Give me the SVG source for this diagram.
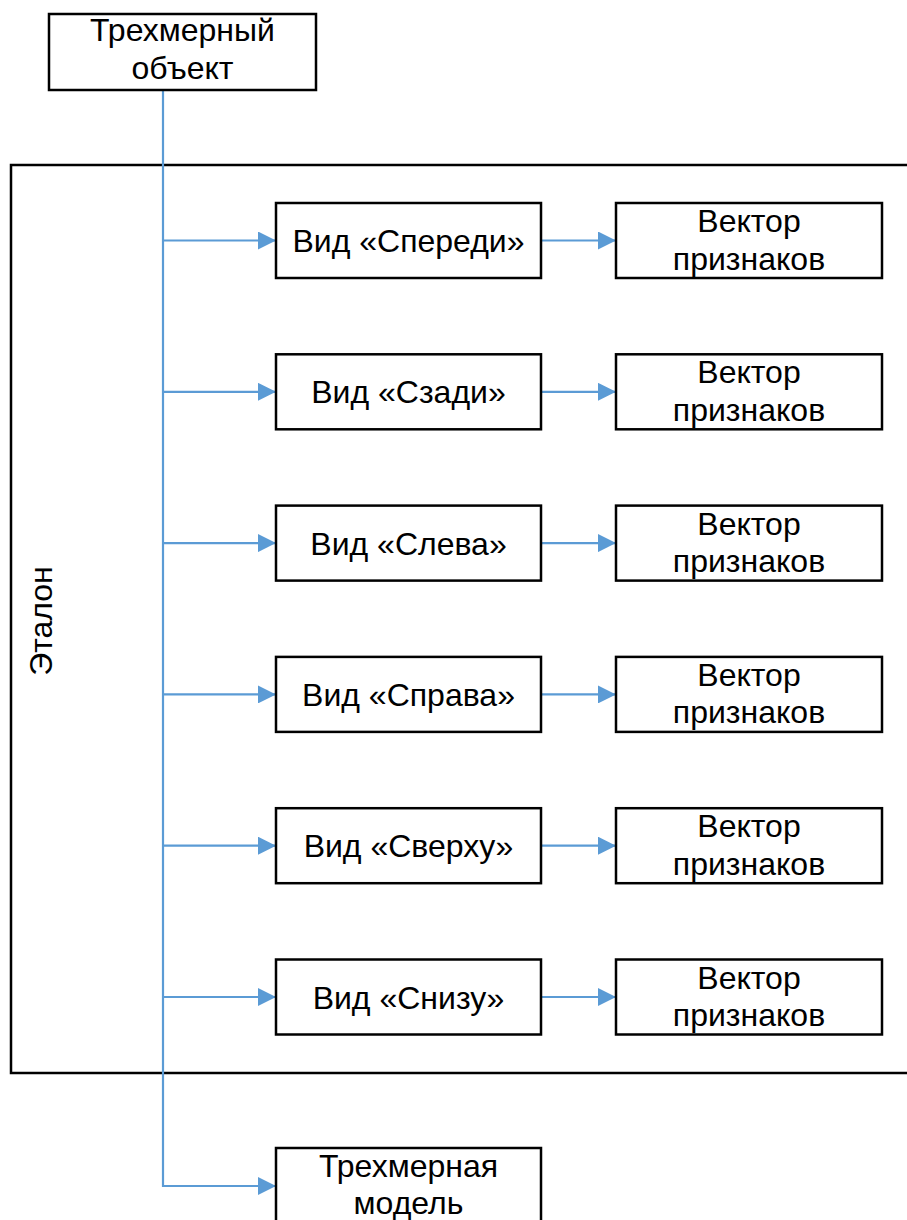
<svg xmlns="http://www.w3.org/2000/svg" width="907" height="1220" viewBox="0 0 907 1220">
  <style>
    .box { fill: #ffffff; stroke: #000000; stroke-width: 2.5; }
    .frame { fill: none; stroke: #000000; stroke-width: 2.5; }
    .lbl { font-family: "Liberation Sans", Arial, sans-serif; font-size: 32px; fill: #000000; text-anchor: middle; }
    .link { fill: none; stroke: #5B9BD5; stroke-width: 2.2; }
  </style>
  <defs>
    <marker id="arrow" markerUnits="userSpaceOnUse" markerWidth="18" markerHeight="18" refX="18" refY="9" orient="auto">
      <path d="M0,0 L18,9 L0,18 Z" fill="#5B9BD5"/>
    </marker>
  </defs>
  <rect width="907" height="1220" fill="#ffffff"/>

  <!-- Container frame "Эталон" -->
  <g id="etalon">
    <rect class="frame" x="11" y="165" width="920" height="908"/>
    <text class="lbl" transform="translate(52,621) rotate(-90)">Эталон</text>
  </g>

  <!-- Connectors -->
  <g id="connectors">
    <path class="link" d="M163,90 V1186 H276" marker-end="url(#arrow)"/>
    <path class="link" d="M163,240.5 H276" marker-end="url(#arrow)"/>
    <path class="link" d="M163,391.8 H276" marker-end="url(#arrow)"/>
    <path class="link" d="M163,543.1 H276" marker-end="url(#arrow)"/>
    <path class="link" d="M163,694.4 H276" marker-end="url(#arrow)"/>
    <path class="link" d="M163,845.7 H276" marker-end="url(#arrow)"/>
    <path class="link" d="M163,997 H276" marker-end="url(#arrow)"/>
    <path class="link" d="M541,240.5 H616" marker-end="url(#arrow)"/>
    <path class="link" d="M541,391.8 H616" marker-end="url(#arrow)"/>
    <path class="link" d="M541,543.1 H616" marker-end="url(#arrow)"/>
    <path class="link" d="M541,694.4 H616" marker-end="url(#arrow)"/>
    <path class="link" d="M541,845.7 H616" marker-end="url(#arrow)"/>
    <path class="link" d="M541,997 H616" marker-end="url(#arrow)"/>
  </g>

  <!-- Source object -->
  <g id="object3d">
    <rect class="box" x="49" y="14" width="267" height="76"/>
    <text class="lbl" x="182.5" y="41">Трехмерный</text>
    <text class="lbl" x="182.5" y="79">объект</text>
  </g>

  <!-- Views -->
  <g id="view-front">
    <rect class="box" x="276" y="203" width="265" height="75"/>
    <text class="lbl" x="408.5" y="252">Вид «Спереди»</text>
  </g>
  <g id="view-back">
    <rect class="box" x="276" y="354.3" width="265" height="75"/>
    <text class="lbl" x="408.5" y="403.3">Вид «Сзади»</text>
  </g>
  <g id="view-left">
    <rect class="box" x="276" y="505.6" width="265" height="75"/>
    <text class="lbl" x="408.5" y="554.6">Вид «Слева»</text>
  </g>
  <g id="view-right">
    <rect class="box" x="276" y="656.9" width="265" height="75"/>
    <text class="lbl" x="408.5" y="705.9">Вид «Справа»</text>
  </g>
  <g id="view-top">
    <rect class="box" x="276" y="808.2" width="265" height="75"/>
    <text class="lbl" x="408.5" y="857.2">Вид «Сверху»</text>
  </g>
  <g id="view-bottom">
    <rect class="box" x="276" y="959.5" width="265" height="75"/>
    <text class="lbl" x="408.5" y="1008.5">Вид «Снизу»</text>
  </g>

  <!-- Feature vectors -->
  <g id="vec-front">
    <rect class="box" x="616" y="203" width="266" height="75"/>
    <text class="lbl" x="749" y="232">Вектор</text>
    <text class="lbl" x="749" y="269.5">признаков</text>
  </g>
  <g id="vec-back">
    <rect class="box" x="616" y="354.3" width="266" height="75"/>
    <text class="lbl" x="749" y="383.3">Вектор</text>
    <text class="lbl" x="749" y="420.8">признаков</text>
  </g>
  <g id="vec-left">
    <rect class="box" x="616" y="505.6" width="266" height="75"/>
    <text class="lbl" x="749" y="534.6">Вектор</text>
    <text class="lbl" x="749" y="572.1">признаков</text>
  </g>
  <g id="vec-right">
    <rect class="box" x="616" y="656.9" width="266" height="75"/>
    <text class="lbl" x="749" y="685.9">Вектор</text>
    <text class="lbl" x="749" y="723.4">признаков</text>
  </g>
  <g id="vec-top">
    <rect class="box" x="616" y="808.2" width="266" height="75"/>
    <text class="lbl" x="749" y="837.2">Вектор</text>
    <text class="lbl" x="749" y="874.7">признаков</text>
  </g>
  <g id="vec-bottom">
    <rect class="box" x="616" y="959.5" width="266" height="75"/>
    <text class="lbl" x="749" y="988.5">Вектор</text>
    <text class="lbl" x="749" y="1026">признаков</text>
  </g>

  <!-- Resulting model -->
  <g id="model3d">
    <rect class="box" x="276" y="1148" width="265" height="75"/>
    <text class="lbl" x="408.5" y="1176.7">Трехмерная</text>
    <text class="lbl" x="408.5" y="1213.5">модель</text>
  </g>
</svg>
